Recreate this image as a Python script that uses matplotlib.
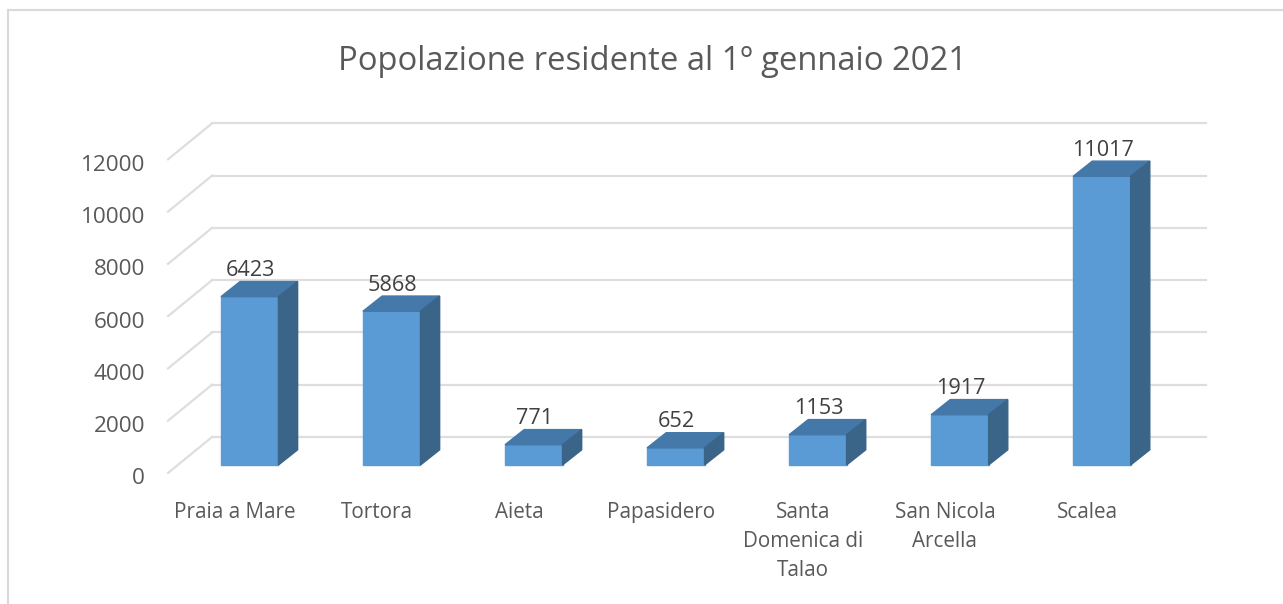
import matplotlib.pyplot as plt
from matplotlib.patches import Polygon, Rectangle

# Data
comuni = ['Praia a Mare', 'Tortora', 'Aieta', 'Papasidero', 'Santa\nDomenica di\nTalao', 'San Nicola\nArcella', 'Scalea']
popolazione = [6423, 5868, 771, 652, 1153, 1917, 11017]
ticks = [0, 2000, 4000, 6000, 8000, 10000, 12000]

plt.rcParams['font.family'] = ['Open Sans', 'DejaVu Sans']
grey = '#595959'

fig = plt.figure(figsize=(12.83, 6.04), dpi=100)
# axes placed on the pixel area of the bars: x is category index, y is population
ax = fig.add_axes([172 / 1283, 1 - 465 / 604, (1130 - 172) / 1283, (465 - 160) / 604])
ax.set_xlim(0.0, 6.745)
ax.set_ylim(0, 11640)
ax.axis('off')

# depth of the 3D look, in axes units
dx = 0.135
dy = 580
w = 0.405
x0 = 0.547

# gridlines: front diagonal, then back wall
for t in ticks:
    y = t * 0.9975 - 305
    ax.plot([-0.028, 0.282], [y, y + 1374], color='#dedede', lw=1.6, clip_on=False, zorder=1)
    ax.plot([0.282, 7.28], [y + 1374, y + 1374], color='#dedede', lw=1.6, clip_on=False, zorder=1)
    ax.text(-0.19, y - 225, str(t), ha='right', va='center', fontsize=16.2, color=grey)

for i, v in enumerate(popolazione):
    left = x0 + i - w / 2
    ax.add_patch(Rectangle((left, 0), w, v, color='#5b9bd5', zorder=3, clip_on=False))
    ax.add_patch(Polygon([(left, v), (left + w, v), (left + w + dx, v + dy), (left + dx, v + dy)], color='#4478a8', zorder=3, clip_on=False))
    ax.add_patch(Polygon([(left + w, 0), (left + w + dx, dy), (left + w + dx, v + dy), (left + w, v)], color='#3a6488', zorder=3, clip_on=False))
    ax.text(left + w / 2 + 0.005, v + dy + 15, str(v), ha='center', va='bottom', fontsize=15.6, color='#404040', zorder=4)
    ax.text(left + w / 2 - 0.105, -1400, comuni[i], ha='center', va='top', fontsize=14.9, color=grey, linespacing=1.5)

fig.text(652 / 1283, 1 - 61 / 604, 'Popolazione residente al 1º gennaio 2021', ha='center', va='center', fontsize=23.6, color=grey)

# chart frame
fig.add_artist(plt.Line2D([8 / 1283, 8 / 1283], [0, 1 - 10 / 604], color='#d9d9d9', lw=1.5))
fig.add_artist(plt.Line2D([8 / 1283, 1], [1 - 10 / 604, 1 - 10 / 604], color='#d9d9d9', lw=1.5))

fig.savefig('out.png', dpi=100)
